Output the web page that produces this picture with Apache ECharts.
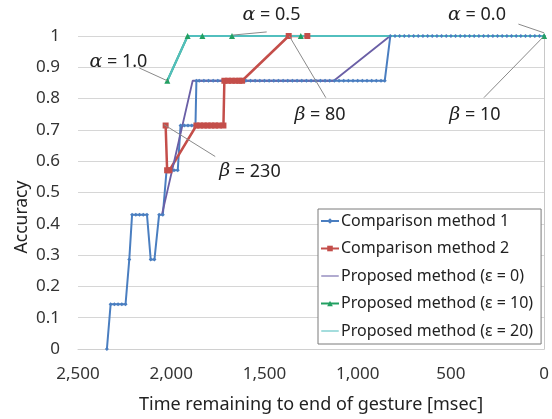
<!DOCTYPE html>
<html><head><meta charset="utf-8">
<script src="https://cdn.jsdelivr.net/npm/echarts@6/dist/echarts.min.js"></script>
<style>html,body{margin:0;padding:0;background:#fff}#c{width:552px;height:419px}</style>
</head><body><div id="c"></div>
<script>
// ---- data ----
const xTicks = [2500, 2000, 1500, 1000, 500, 0];
const xTickLabels = ['2,500', '2,000', '1,500', '1,000', '500', '0'];
const yTickLabels = ['0', '0.1', '0.2', '0.3', '0.4', '0.5', '0.6', '0.7', '0.8', '0.9', '1'];
const seriesNames = ['Comparison method 1', 'Comparison method 2', 'Proposed method (ε = 0)', 'Proposed method (ε = 10)', 'Proposed method (ε = 20)'];

const compMethod1 = [
  [2345, 0], [2325, 0.143], [2305, 0.143], [2285, 0.143], [2265, 0.143], [2245, 0.143],
  [2225, 0.286], [2210, 0.429], [2190, 0.429], [2170, 0.429], [2150, 0.429], [2130, 0.429],
  [2110, 0.286], [2090, 0.286], [2065, 0.429], [2045, 0.429],
  [2025, 0.571], [2005, 0.571], [1985, 0.571], [1965, 0.571],
  [1950, 0.714], [1930, 0.714], [1910, 0.714], [1890, 0.714], [1870, 0.714],
  [1865, 0.857], [1850, 0.857], [1825, 0.857], [1800, 0.857], [1775, 0.857], [1750, 0.857],
  [1725, 0.857], [1700, 0.857], [1675, 0.857], [1650, 0.857], [1625, 0.857], [1600, 0.857],
  [1575, 0.857], [1550, 0.857], [1525, 0.857], [1500, 0.857], [1475, 0.857], [1450, 0.857],
  [1425, 0.857], [1400, 0.857], [1375, 0.857], [1350, 0.857], [1325, 0.857], [1300, 0.857],
  [1275, 0.857], [1250, 0.857], [1225, 0.857], [1200, 0.857], [1175, 0.857], [1150, 0.857],
  [1125, 0.857], [1100, 0.857], [1075, 0.857], [1050, 0.857], [1025, 0.857], [1000, 0.857],
  [975, 0.857], [950, 0.857], [925, 0.857], [900, 0.857], [875, 0.857], [855, 0.857],
  [825, 1], [800, 1], [775, 1], [750, 1], [725, 1], [700, 1], [675, 1], [650, 1], [625, 1],
  [600, 1], [575, 1], [550, 1], [525, 1], [500, 1], [475, 1], [450, 1], [425, 1], [400, 1],
  [375, 1], [350, 1], [325, 1], [300, 1], [275, 1], [250, 1], [225, 1], [200, 1], [175, 1],
  [150, 1], [125, 1], [100, 1], [75, 1], [50, 1], [25, 1], [0, 1]
];
const compMethod2 = [
  [2030, 0.714], [2022, 0.571], [2010, 0.571],
  [1865, 0.714], [1845, 0.714], [1825, 0.714], [1805, 0.714], [1785, 0.714], [1765, 0.714],
  [1745, 0.714], [1720, 0.714],
  [1715, 0.857], [1695, 0.857], [1675, 0.857], [1655, 0.857], [1635, 0.857], [1620, 0.857],
  [1370, 1], [1270, 1]
];
const proposedEps0 = [[2050, 0.429], [1885, 0.857], [1128, 0.857], [826, 1], [0, 1]];
const proposedEps10 = [[2021, 0.857], [1912, 1], [1833, 1], [1674, 1], [1305, 1], [0, 1]];
const proposedEps20 = [[2021, 0.857], [1912, 1], [826, 1], [0, 1]];

// annotations: greek symbol, value text, label centre, leader start, leader end (data coords)
const annSymbols = ['α', 'α', 'α', 'β', 'β', 'β'];
const annValues = ['1.0', '0.5', '0.0', '80', '10', '230'];
const annLabelAt = [[2283, 0.917], [1462, 1.067], [360, 1.067], [1202, 0.748], [371, 0.748], [1578, 0.567]];
const annLineFrom = [[2172, 0.898], [1488, 1.013], [138, 1.038], [1171, 0.803], [323, 0.803], [1764, 0.615]];
const annLineTo = [[2021, 0.857], [1669, 1.003], [0, 1.01], [1367, 1.0], [5, 0.997], [2039, 0.717]];

// ---- chart ----
const FONT = 'Noto Sans';
const chart = echarts.init(document.getElementById('c'), null, {renderer: 'canvas'});
const colors = ['#4A7EC0', '#C44E4A', '#6A5FA6', '#22A062', '#52BFBE'];
const lineIcon = 'path://M0,0 M0,3.4 L20,3.4 L20,4.6 L0,4.6 Z M20,8';

const option = {
  animation: false,
  backgroundColor: '#fff',
  textStyle: {fontFamily: FONT},
  grid: {left: 78, right: 4, top: 36, bottom: 69, containLabel: false},
  xAxis: {
    type: 'value', inverse: true, min: 0, max: 2500, interval: 500,
    axisLine: {show: true, lineStyle: {color: '#D0D0D0', width: 1}},
    axisTick: {show: false},
    splitLine: {show: false},
    axisLabel: {
      margin: 17, fontSize: 17, color: '#333', fontFamily: FONT,
      formatter: v => xTickLabels[xTicks.indexOf(v)]
    },
    name: 'Time remaining to end of gesture [msec]', nameLocation: 'middle', nameGap: 47,
    nameTextStyle: {fontSize: 18, color: '#222', fontFamily: FONT}
  },
  yAxis: [{
    type: 'value', min: 0, max: 1, interval: 0.1,
    axisLine: {show: false}, axisTick: {show: false},
    splitLine: {show: true, lineStyle: {color: '#D6D6D6', width: 1}},
    axisLabel: {
      margin: 18, fontSize: 17, color: '#333', fontFamily: FONT,
      formatter: v => yTickLabels[Math.round(v * 10)]
    }
  }, {
    type: 'value', min: 0, max: 1, interval: 0.1, position: 'right',
    axisLine: {show: true, lineStyle: {color: '#C8C8C8', width: 1}},
    axisTick: {show: false}, axisLabel: {show: false}, splitLine: {show: false}
  }],
  legend: {
    orient: 'vertical', left: 318, top: 209,
    backgroundColor: '#fff', borderColor: '#7A7A7A', borderWidth: 1,
    padding: [4, 8, 5, 2], itemGap: 11.5, itemWidth: 18, itemHeight: 7,
    textStyle: {fontSize: 16, color: '#222', fontFamily: FONT, padding: [0, 0, 0, -3]},
    data: [
      {name: seriesNames[0]},
      {name: seriesNames[1]},
      {name: seriesNames[2], icon: lineIcon},
      {name: seriesNames[3]},
      {name: seriesNames[4], icon: lineIcon}
    ]
  },
  series: [
    {name: seriesNames[0], type: 'line', data: compMethod1, color: colors[0],
     symbol: 'diamond', symbolSize: 4, showAllSymbol: true,
     lineStyle: {width: 2}},
    {name: seriesNames[1], type: 'line', data: compMethod2, color: colors[1],
     symbol: 'rect', symbolSize: 6, showAllSymbol: true,
     lineStyle: {width: 2.5}},
    {name: seriesNames[2], type: 'line', data: proposedEps0, color: colors[2],
     symbol: 'none', lineStyle: {width: 1.8}},
    {name: seriesNames[3], type: 'line', data: proposedEps10, color: colors[3],
     symbol: 'triangle', symbolSize: 6, showAllSymbol: true, lineStyle: {width: 2}},
    {name: seriesNames[4], type: 'line', data: proposedEps20, color: colors[4],
     symbol: 'none', lineStyle: {width: 2}}
  ]
};
chart.setOption(option);

const graphics = [];
for (let i = 0; i < annSymbols.length; i++) {
  const a = chart.convertToPixel({xAxisIndex: 0, yAxisIndex: 0}, annLineFrom[i]);
  const b = chart.convertToPixel({xAxisIndex: 0, yAxisIndex: 0}, annLineTo[i]);
  const c = chart.convertToPixel({xAxisIndex: 0, yAxisIndex: 0}, annLabelAt[i]);
  graphics.push({type: 'line', shape: {x1: a[0], y1: a[1], x2: b[0], y2: b[1]},
    style: {stroke: '#8A8A8A', lineWidth: 1}, z: 10});
  graphics.push({type: 'text', x: c[0], y: c[1], z: 11,
    style: {
      text: '{g|' + annSymbols[i] + '} = ' + annValues[i],
      rich: {g: {fontStyle: 'italic', fontSize: 19, fontFamily: 'DejaVu Serif', fill: '#222'}},
      fontSize: 18, fontFamily: FONT, fill: '#222', align: 'center', verticalAlign: 'middle'
    }});
}
graphics.push({type: 'text', x: 22, y: 217, rotation: Math.PI / 2, z: 11,
  style: {text: 'Accuracy', fontSize: 17.5, fontFamily: FONT, fill: '#222', align: 'center', verticalAlign: 'middle'}});
chart.setOption({graphic: graphics});
</script>
</body></html>
